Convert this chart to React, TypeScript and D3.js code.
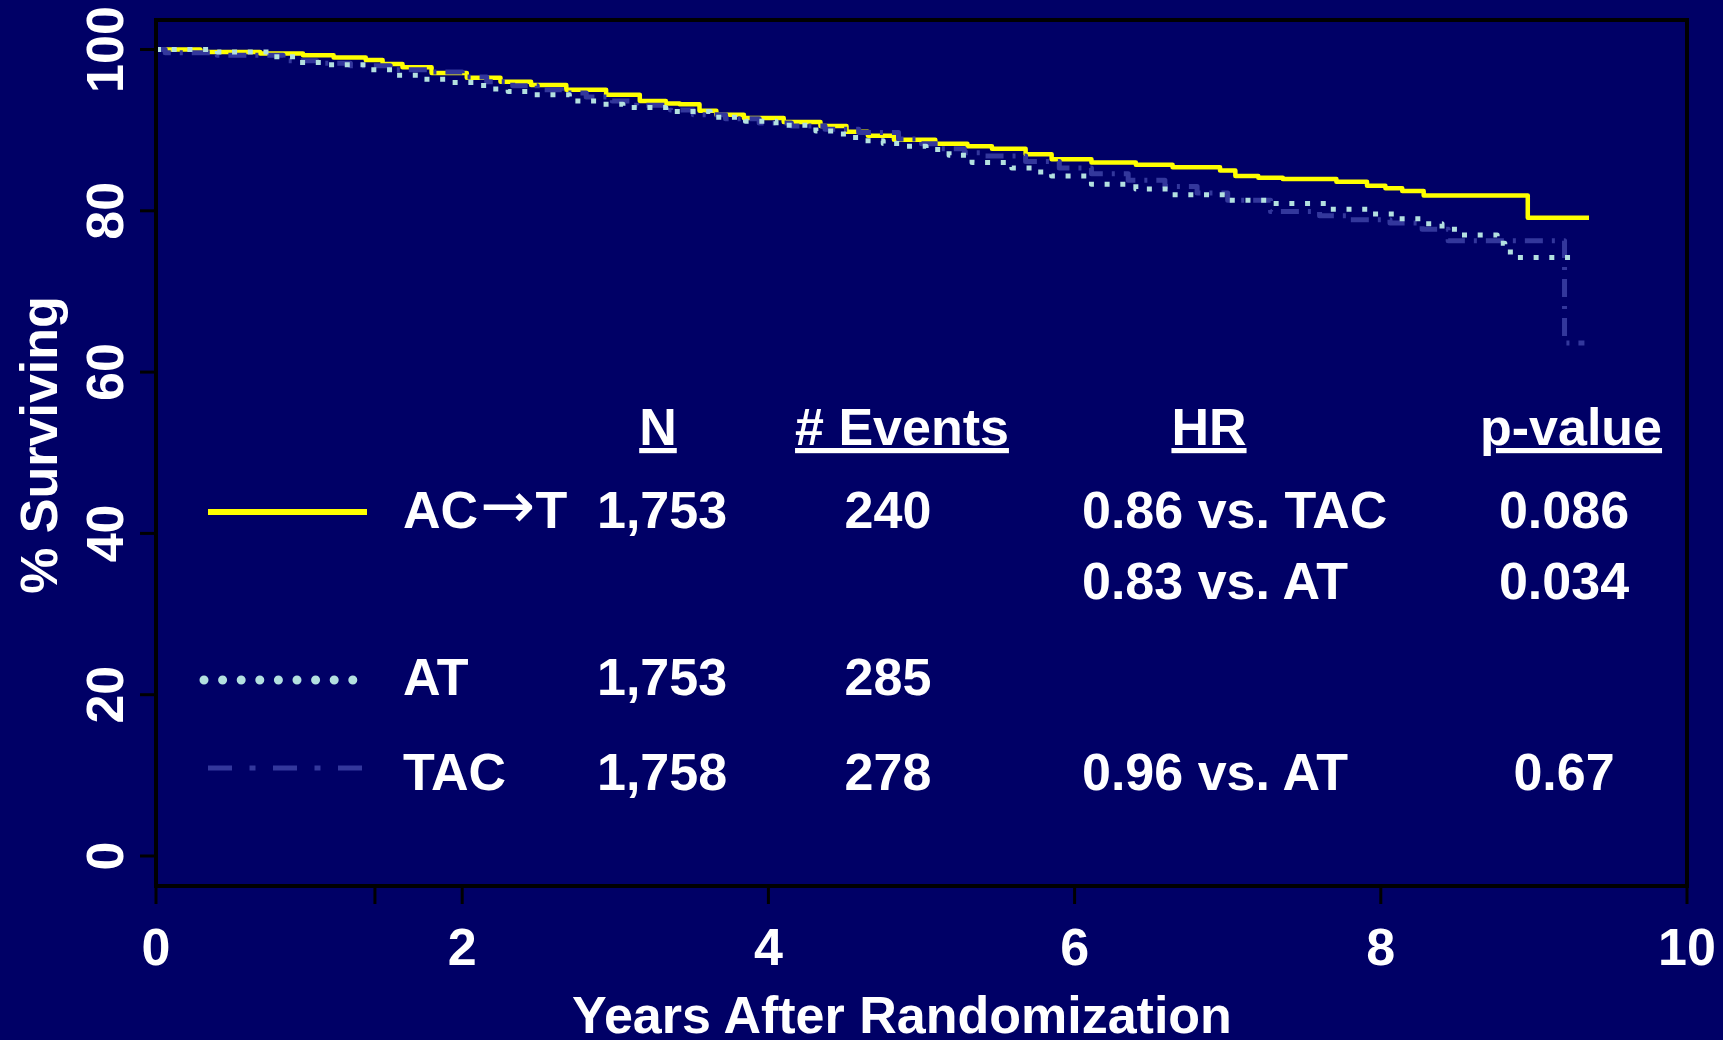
import React from 'react'
import { scaleLinear, line, curveStepAfter } from 'd3'

// Kaplan-Meier curves (years, % surviving)
const actYears = [0, 0.29, 0.68, 0.96, 1.16, 1.37, 1.48, 1.61, 1.8, 2.03, 2.25, 2.45, 2.68, 2.94, 3.16, 3.33, 3.42, 3.55, 3.66, 3.84, 4.1, 4.34, 4.51, 4.65, 4.82, 5.09, 5.3, 5.46, 5.68, 5.85, 6.11, 6.4, 6.64, 6.95, 7.05, 7.2, 7.36, 7.71, 7.91, 8.03, 8.14, 8.28, 8.96, 9.36]
const actSurv = [100, 99.7, 99.5, 99.3, 99.0, 98.7, 98.2, 97.8, 97.1, 96.5, 96.0, 95.6, 95.0, 94.4, 93.6, 93.3, 93.2, 92.4, 91.9, 91.5, 91.0, 90.5, 89.8, 89.3, 88.8, 88.3, 88.0, 87.7, 87.0, 86.4, 86.0, 85.7, 85.4, 85.0, 84.3, 84.1, 83.95, 83.6, 83.1, 82.8, 82.45, 81.9, 79.15, 79.15]

const atYears = [0, 0.4, 0.77, 0.94, 1.12, 1.4, 1.57, 1.75, 1.92, 2.14, 2.3, 2.44, 2.7, 2.88, 3.05, 3.33, 3.62, 3.85, 4.05, 4.31, 4.49, 4.62, 4.75, 4.9, 5.03, 5.18, 5.33, 5.59, 5.72, 5.85, 6.11, 6.4, 6.64, 7.0, 7.28, 7.67, 7.93, 8.1, 8.28, 8.4, 8.52, 8.76, 8.81, 8.88, 9.28]
const atSurv = [100, 99.7, 99.1, 98.4, 98.1, 97.5, 96.8, 96.3, 95.9, 95.1, 94.8, 94.4, 93.6, 93.2, 92.8, 92.3, 91.6, 91.1, 90.6, 89.9, 89.1, 88.7, 88.35, 88.0, 87.6, 86.9, 86.0, 85.3, 84.8, 84.3, 83.3, 82.7, 82.0, 81.3, 80.9, 80.2, 79.6, 79.0, 78.4, 77.7, 77.0, 75.97, 74.9, 74.2, 74.2]

const tacYears = [0, 0.06, 0.4, 0.83, 1.05, 1.27, 1.53, 1.8, 2.0, 2.16, 2.33, 2.49, 2.65, 2.81, 2.98, 3.14, 3.36, 3.51, 3.72, 3.94, 4.15, 4.37, 4.59, 4.85, 5.0, 5.13, 5.28, 5.41, 5.68, 5.9, 6.11, 6.35, 6.59, 6.8, 7.0, 7.28, 7.6, 7.79, 8.06, 8.27, 8.44, 9.2, 9.33]
const tacSurv = [100, 99.6, 99.3, 98.6, 98.3, 98.0, 97.5, 97.2, 96.6, 96.0, 95.5, 95.0, 94.6, 94.1, 93.6, 93.1, 92.5, 91.9, 91.4, 90.9, 90.5, 90.1, 89.7, 88.9, 88.3, 87.7, 87.2, 86.8, 86.1, 85.3, 84.6, 83.8, 83.0, 82.2, 81.3, 79.9, 79.4, 78.9, 78.5, 77.7, 76.3, 63.6, 63.6]

const xTicks = [0, 2, 4, 6, 8, 10]
const xExtraTicks = [1.43]
const yTicks = [0, 20, 40, 60, 80, 100]

// legend table
const groupHead = ['AC', 'AT', 'TAC']
const groupTail = ['T', '', '']
const groupN = ['1,753', '1,753', '1,758']
const groupEvents = ['240', '285', '278']
const hrLabels = ['0.86 vs. TAC', '0.83 vs. AT', '0.96 vs. AT']
const pValues = ['0.086', '0.034', '0.67']

const BG = '#000066'
const FONT = '"Liberation Sans", Arial, sans-serif'

const App = () => {
  const x = scaleLinear().domain([0, 10]).range([156, 1687])
  const y = scaleLinear().domain([0, 100]).range([856, 49.5])
  const top = 20
  const bottom = 886

  const path = line<number>()
    .x(d => x(d))
    .curve(curveStepAfter)

  const mk = (ts: number[], ss: number[]) =>
    path.y((_, i) => y(ss[i]))(ts) || ''

  const series = [
    { d: mk(actYears, actSurv), color: '#ffff00', width: 4.5, dash: undefined },
    { d: mk(tacYears, tacSurv), color: '#33379c', width: 5, dash: '18 9 3 9' },
    { d: mk(atYears, atSurv), color: '#b3e0e0', width: 5, dash: '5 10.7' },
  ]

  const textStyle = { fontFamily: FONT, fontWeight: 700, fontSize: 52, fill: '#ffffff' }

  // legend rows: baseline y of each group row, and the HR/p row baselines
  const rowY = [528, 695, 790]
  const hrY = [528, 599, 790]

  return (
    <svg width={1723} height={1040} style={{ position: 'absolute', left: 0, top: 0 }}>
      <rect width={1723} height={1040} fill={BG} />

      {series.map((s, i) => (
        <path key={i} d={s.d} fill="none" stroke={s.color} strokeWidth={s.width}
          strokeDasharray={s.dash} strokeLinejoin="round" />
      ))}

      {/* frame */}
      <rect x={x(0)} y={top} width={x(10) - x(0)} height={bottom - top}
        fill="none" stroke="#000" strokeWidth={4} />

      {/* x axis */}
      {xTicks.concat(xExtraTicks).map(t => (
        <line key={'xt' + t} x1={x(t)} x2={x(t)} y1={bottom} y2={bottom + 18} stroke="#000" strokeWidth={3} />
      ))}
      {xTicks.map(t => (
        <text key={'xl' + t} x={x(t)} y={965} textAnchor="middle" style={textStyle}>{t}</text>
      ))}
      <text x={902} y={1033} textAnchor="middle" style={textStyle}>Years After Randomization</text>

      {/* y axis */}
      {yTicks.map(v => (
        <line key={'yt' + v} x1={x(0) - 16} x2={x(0)} y1={y(v)} y2={y(v)} stroke="#000" strokeWidth={3} />
      ))}
      {yTicks.map(v => (
        <text key={'yl' + v} transform={`translate(123,${y(v)}) rotate(-90)`} textAnchor="middle" style={textStyle}>{v}</text>
      ))}
      <text transform="translate(57,445) rotate(-90)" textAnchor="middle" style={textStyle}>% Surviving</text>

      {/* legend headers */}
      <text x={658} y={445} textAnchor="middle" style={textStyle} textDecoration="underline">N</text>
      <text x={902} y={445} textAnchor="middle" style={textStyle} textDecoration="underline"># Events</text>
      <text x={1209} y={445} textAnchor="middle" style={textStyle} textDecoration="underline">HR</text>
      <text x={1571} y={445} textAnchor="middle" style={textStyle} textDecoration="underline">p-value</text>

      {/* legend samples */}
      <line x1={208} x2={367} y1={512} y2={512} stroke="#ffff00" strokeWidth={6} />
      <line x1={204} x2={355} y1={680} y2={680} stroke="#b3e0e0" strokeWidth={9}
        strokeLinecap="round" strokeDasharray="0 18.6" />
      <line x1={208} x2={364} y1={768} y2={768} stroke="#33379c" strokeWidth={5}
        strokeDasharray="24 17.5 6 17.5" />

      {groupHead.map((g, i) => (
        <g key={g}>
          <text x={403} y={rowY[i]} style={textStyle}>
            {g}
            {groupTail[i] && (
              <>
                <tspan style={{ fontFamily: '"DejaVu Sans", sans-serif', fontWeight: 400, fontSize: 66 }} dx={2}>{'\u2192'}</tspan>
                <tspan>{groupTail[i]}</tspan>
              </>
            )}
          </text>
          <text x={597} y={rowY[i]} style={textStyle}>{groupN[i]}</text>
          <text x={888} y={rowY[i]} textAnchor="middle" style={textStyle}>{groupEvents[i]}</text>
        </g>
      ))}
      {hrLabels.map((h, i) => (
        <g key={h}>
          <text x={1082} y={hrY[i]} style={textStyle}>{h}</text>
          <text x={1564} y={hrY[i]} textAnchor="middle" style={textStyle}>{pValues[i]}</text>
        </g>
      ))}
    </svg>
  )
}

export default App
